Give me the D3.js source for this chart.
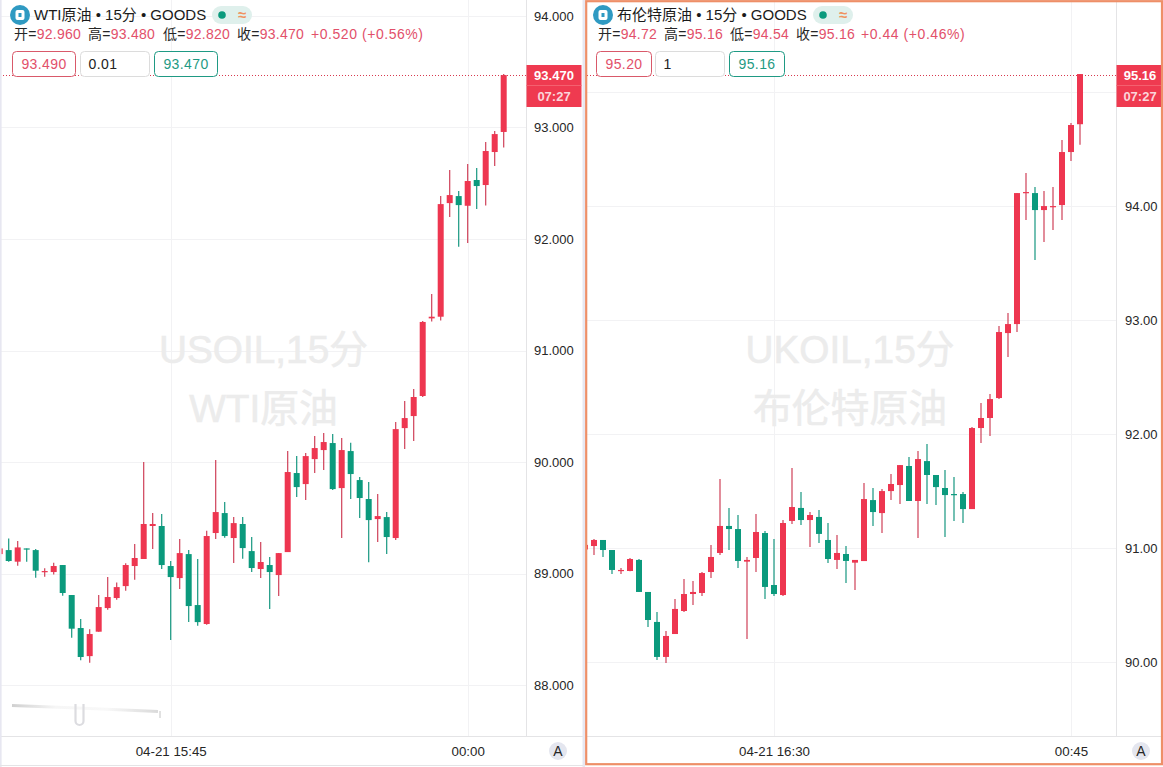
<!DOCTYPE html>
<html><head><meta charset="utf-8">
<script src="https://cdn.jsdelivr.net/npm/d3@7/dist/d3.min.js"></script>
<style>
html,body{margin:0;padding:0;background:#fff;overflow:hidden}
text{font-family:"Liberation Sans","Noto Sans CJK SC",sans-serif}
</style></head><body><svg id="c" width="1163" height="767"></svg>
<script>
// WTI candles
const wtiOpen=[89.174,89.210,89.106,89.225,89.210,89.016,89.013,89.076,88.807,88.511,88.259,88.478,88.690,88.780,88.887,89.067,89.130,89.426,89.426,89.067,88.959,89.174,88.717,88.547,89.363,89.542,89.318,89.444,89.201,89.040,89.076,88.986,89.192,89.901,89.802,90.026,90.107,90.170,89.766,90.098,89.838,89.668,89.488,89.506,89.318,90.304,90.412,90.592,91.288,91.303,92.322,92.385,92.298,92.529,92.484,92.780,92.960];
const wtiHigh=[89.24,89.315,89.291,89.225,89.219,89.046,89.097,89.076,88.807,88.591,88.499,88.807,88.968,88.920,89.091,89.264,90.0,89.542,89.533,89.112,89.309,89.210,89.130,89.384,90.018,89.641,89.506,89.506,89.327,89.282,89.148,89.183,90.098,90.053,90.080,90.233,90.260,90.251,90.215,90.173,89.865,89.820,89.712,89.551,90.358,90.547,90.654,91.265,91.506,92.385,92.618,92.430,92.672,92.636,92.869,92.968,93.480];
const wtiLow=[89.16,89.106,89.070,89.106,88.962,88.971,88.992,88.801,88.424,88.221,88.200,88.478,88.675,88.765,88.846,88.944,89.130,89.219,89.040,88.403,88.860,88.564,88.532,88.541,89.309,89.321,89.094,89.133,89.013,88.959,88.681,88.798,89.192,89.686,89.659,89.901,89.928,89.748,89.318,89.668,89.497,89.102,89.282,89.174,89.300,90.116,90.188,90.583,91.26,91.27,92.197,91.931,91.964,92.268,92.301,92.654,92.820];
const wtiClose=[89.225,89.112,89.234,89.220,89.025,89.022,89.067,88.825,88.505,88.251,88.457,88.699,88.789,88.878,89.076,89.139,89.444,89.444,89.076,88.968,89.183,88.708,88.564,89.336,89.551,89.336,89.452,89.228,89.049,89.103,89.013,89.183,89.910,89.775,90.053,90.125,90.179,89.757,90.107,89.892,89.677,89.479,89.515,89.327,90.295,90.394,90.583,91.256,91.303,92.313,92.394,92.304,92.520,92.475,92.789,92.941,93.470];
// Brent candles
const brentOpen=[90.99,91.020,91.073,90.985,90.801,90.801,90.898,90.617,90.354,90.047,90.248,90.450,90.599,90.608,90.792,90.959,91.196,91.169,90.883,90.915,91.134,90.678,90.590,91.240,91.354,91.248,91.275,91.073,90.898,90.950,90.874,90.888,91.423,91.309,91.502,91.555,91.722,91.415,91.765,91.643,91.529,91.476,91.476,91.344,92.055,92.143,92.318,92.888,92.967,94.116,94.116,93.967,93.994,94.011,94.476,94.72];
const brentHigh=[91.05,91.082,91.073,90.985,90.827,90.915,90.906,90.617,90.441,90.275,90.555,90.731,90.713,90.792,91.029,91.608,91.354,91.292,90.924,91.301,91.152,91.082,91.248,91.704,91.494,91.319,91.336,91.222,91.117,91.020,90.898,91.572,91.529,91.520,91.651,91.730,91.801,91.853,91.915,91.643,91.687,91.625,91.494,92.064,92.274,92.353,92.950,93.064,94.116,94.292,94.169,94.134,94.169,94.581,94.730,95.16];
const brentLow=[90.95,90.941,90.924,90.775,90.775,90.798,90.617,90.310,90.020,89.994,90.248,90.441,90.503,90.582,90.740,90.941,90.985,90.827,90.205,90.792,90.555,90.582,90.582,91.213,91.205,91.012,91.047,90.871,90.819,90.696,90.634,90.888,91.195,91.134,91.423,91.388,91.415,91.090,91.388,91.379,91.099,91.239,91.222,91.344,91.923,91.985,92.31,92.678,92.897,93.879,93.529,93.686,93.792,93.879,94.397,94.54];
const brentClose=[91.03,91.073,90.985,90.810,90.810,90.906,90.617,90.371,90.047,90.231,90.468,90.599,90.617,90.783,90.924,91.196,91.169,90.889,90.898,91.143,90.661,90.599,91.222,91.362,91.248,91.292,91.126,90.906,90.959,90.889,90.898,91.432,91.318,91.502,91.564,91.730,91.415,91.783,91.643,91.537,91.467,91.467,91.344,92.055,92.143,92.309,92.897,92.967,94.116,94.125,93.967,94.002,94.002,94.476,94.713,95.16];
// Axis ticks
const wtiPriceTicks=[94,93,92,91,90,89,88];
const brentPriceTicks=[94,93,92,91,90];
const brentGridOnly=[95];
const wtiTimeTicks=[19,52], wtiTimeLabels=["04-21 15:45","00:00"];
const brentTimeTicks=[21,54], brentTimeLabels=["04-21 16:30","00:45"];
// Header text
const wtiTitle="WTI原油 • 15分 • GOODS", brentTitle="布伦特原油 • 15分 • GOODS";
const wtiQuote=["92.960","93.480","92.820","93.470"], brentQuote=["94.72","95.16","94.54","95.16"];
const wtiChange="+0.520 (+0.56%)", brentChange="+0.44 (+0.46%)";
const wtiBid=["93.490","0.01","93.470"], brentBid=["95.20","1","95.16"];
const quoteKeys=["开=","高=","低=","收="];

const UP="#ee3650",DOWN="#0b9a7d",UPW="#cf4058",DOWNW="#169780",GRID="#f2f2f4",AXIS="#e4e4e6",TXT="#262626",QRED="#e2506a";
const FONT='"Liberation Sans","Noto Sans CJK SC",sans-serif';
const svg=d3.select("#c");
const defs=svg.append("defs");
const grad=defs.append("linearGradient").attr("id","fade");
grad.append("stop").attr("offset","0").attr("stop-color","#d0d0d0");
grad.append("stop").attr("offset","0.3").attr("stop-color","#f6f6f6");
grad.append("stop").attr("offset","0.65").attr("stop-color","#f8f8f8");
grad.append("stop").attr("offset","1").attr("stop-color","#dadada");

function panel(o){
  const g=svg.append("g");
  const y=d3.scaleLinear().domain(o.yDomain).range(o.yRange);
  const x=d3.scaleLinear().domain([0,o.close.length-1]).range(o.xRange);
  const cid="clip"+o.id;
  defs.append("clipPath").attr("id",cid).append("rect").attr("x",o.left).attr("y",0).attr("width",o.axisX-o.left).attr("height",736);
  // grid
  const gg=g.append("g").attr("clip-path",`url(#${cid})`);
  gg.selectAll("line.h").data(o.priceTicks.concat(o.gridOnly)).join("line").attr("class","h")
    .attr("x1",o.left).attr("x2",o.axisX).attr("y1",d=>Math.round(y(d))+.5).attr("y2",d=>Math.round(y(d))+.5).attr("stroke",GRID);
  gg.selectAll("line.v").data(o.timeTicks).join("line").attr("class","v")
    .attr("x1",d=>Math.round(x(d))+.5).attr("x2",d=>Math.round(x(d))+.5).attr("y1",0).attr("y2",736).attr("stroke",GRID);
  // watermark
  o.watermark.forEach((t,i)=>g.append("text").text(t).attr("x",o.wmX).attr("y",o.wmY[i]).attr("text-anchor","middle")
    .attr("font-size",38.8).attr("fill","#ececec").attr("stroke","#ececec").attr("stroke-width",0.6).attr("dominant-baseline","middle"));
  // candles
  const idx=d3.range(o.close.length);
  const cg=g.append("g").attr("clip-path",`url(#${cid})`);
  cg.selectAll("line.w").data(idx).join("line").attr("class","w")
    .attr("x1",i=>x(i)).attr("x2",i=>x(i)).attr("y1",i=>y(o.high[i])).attr("y2",i=>y(o.low[i]))
    .attr("stroke",i=>o.close[i]>=o.open[i]?UPW:DOWNW).attr("stroke-width",1.2);
  cg.selectAll("rect.b").data(idx).join("rect").attr("class","b")
    .attr("x",i=>x(i)-3).attr("width",6)
    .attr("y",i=>y(Math.max(o.open[i],o.close[i])))
    .attr("height",i=>Math.max(1.2,Math.abs(y(o.open[i])-y(o.close[i]))))
    .attr("fill",i=>o.close[i]>=o.open[i]?UP:DOWN);
  // last price dotted line
  const last=o.close[o.close.length-1];
  g.append("line").attr("x1",o.left).attr("x2",o.axisX).attr("y1",75.5).attr("y2",75.5)
    .attr("stroke","#d8394f").attr("stroke-width",1).attr("stroke-dasharray","1 2");
  // price axis
  const ya=d3.axisRight(y).tickValues(o.priceTicks).tickSize(0).tickPadding(o.tickPad).tickFormat(d3.format(o.fmt));
  const ag=g.append("g").attr("transform",`translate(${o.axisX},0)`).call(ya);
  ag.select(".domain").remove();
  ag.selectAll("text").attr("font-size",13).attr("fill",TXT).style("font-family",FONT);
  g.append("line").attr("x1",o.axisX+.5).attr("x2",o.axisX+.5).attr("y1",0).attr("y2",736).attr("stroke",AXIS);
  // time axis
  const xa=d3.axisBottom(x).tickValues(o.timeTicks).tickSize(0).tickPadding(11).tickFormat((d,i)=>o.timeLabels[i]);
  const tg=g.append("g").attr("transform","translate(0,736)").call(xa);
  tg.select(".domain").remove();
  tg.selectAll("text").attr("font-size",13.3).attr("fill",TXT).style("font-family",FONT);
  g.append("line").attr("x1",o.left).attr("x2",o.right).attr("y1",736.5).attr("y2",736.5).attr("stroke",AXIS);
  g.append("circle").attr("cx",o.aX).attr("cy",751).attr("r",9).attr("fill","#e4e6ef");
  g.append("text").text("A").attr("x",o.aX).attr("y",756).attr("text-anchor","middle").attr("font-size",14).attr("fill",TXT);
  // last price tag
  g.append("rect").attr("x",o.axisX+.5).attr("y",65).attr("width",o.tagW).attr("height",42).attr("fill","#ef3a50");
  g.append("line").attr("x1",o.axisX+.5).attr("x2",o.axisX+.5+o.tagW).attr("y1",85.5).attr("y2",85.5).attr("stroke","#f4606f");
  g.append("text").text(d3.format(o.fmt)(last)).attr("x",o.axisX+o.tagW/2+.5).attr("y",80).attr("text-anchor","middle").attr("font-size",13).attr("font-weight",700).attr("fill","#fff");
  g.append("text").text("07:27").attr("x",o.axisX+o.tagW/2+.5).attr("y",101).attr("text-anchor","middle").attr("font-size",13).attr("font-weight",700).attr("fill","#fbd5da");
  // header
  const ix=o.iconX;
  g.append("circle").attr("cx",ix).attr("cy",15).attr("r",10).attr("fill","#2f9ac2");
  g.append("rect").attr("x",ix-4.5).attr("y",10).attr("width",9).attr("height",10).attr("rx",2).attr("fill","#fff");
  g.append("rect").attr("x",ix-1.5).attr("y",13).attr("width",3).attr("height",4).attr("fill","#2f9ac2");
  g.append("text").text(o.title).attr("x",ix+14).attr("y",20).attr("font-size",15).attr("fill","#1a1a1a");
  g.append("rect").attr("x",o.pillX).attr("y",6).attr("width",40).attr("height",18).attr("rx",9).attr("fill","#dff0ec");
  g.append("circle").attr("cx",o.pillX+10).attr("cy",15).attr("r",3.8).attr("fill","#0b9a7d");
  g.append("text").text("≈").attr("x",o.pillX+30).attr("y",20).attr("text-anchor","middle").attr("font-size",15).attr("font-weight",700).attr("fill","#f0925f");
  o.quoteX.forEach((qx,i)=>{
    const t=g.append("text").attr("x",qx).attr("y",39).attr("font-size",14).attr("letter-spacing",0.25);
    t.append("tspan").text(quoteKeys[i]).attr("fill",TXT);
    t.append("tspan").text(o.quote[i]).attr("fill",QRED);
  });
  g.append("text").text(o.change).attr("x",o.changeX).attr("y",39).attr("font-size",14).attr("letter-spacing",0.55).attr("fill",QRED);
  // order boxes
  const cols=["#d9596a","#dcdcdc","#1f9a84"], tcols=[QRED,"#222","#1f9a84"];
  o.boxes.forEach((b,i)=>{
    g.append("rect").attr("x",b[0]+.5).attr("y",51.5).attr("width",b[1]).attr("height",25).attr("rx",4).attr("fill","#fff").attr("stroke",cols[i]);
    g.append("text").text(o.bid[i]).attr("x",i==1?b[0]+8.5:b[0]+b[1]/2+.5).attr("y",69).attr("font-size",14).attr("letter-spacing",0.4)
      .attr("text-anchor",i==1?"start":"middle").attr("fill",tcols[i]);
  });
}
panel({id:"a",open:wtiOpen,high:wtiHigh,low:wtiLow,close:wtiClose,yDomain:[94,88],yRange:[16,685],xRange:[-0.3,503.7],
  left:0,right:583,axisX:526,tagW:55,tickPad:8,fmt:".3f",priceTicks:wtiPriceTicks,gridOnly:[],timeTicks:wtiTimeTicks,timeLabels:wtiTimeLabels,
  aX:558,watermark:["USOIL,15分","WTI原油"],wmX:263.5,wmY:[353,412],iconX:20,title:wtiTitle,pillX:212,quote:wtiQuote,quoteX:[14,88,163,237],change:wtiChange,changeX:311,
  bid:wtiBid,boxes:[[12,63],[80,69],[154,63]]});
panel({id:"b",open:brentOpen,high:brentHigh,low:brentLow,close:brentClose,yDomain:[94,90],yRange:[206.3,662.3],xRange:[585,1080],
  left:587,right:1162,axisX:1116,tagW:47,tickPad:9,fmt:".2f",priceTicks:brentPriceTicks,gridOnly:brentGridOnly,timeTicks:brentTimeTicks,timeLabels:brentTimeLabels,
  aX:1141,watermark:["UKOIL,15分","布伦特原油"],wmX:850,wmY:[353,412],iconX:603,title:brentTitle,pillX:813,quote:brentQuote,quoteX:[598,664,730,796],change:brentChange,changeX:861,
  bid:brentBid,boxes:[[596,55],[655,69],[729,55]]});
// panel frames
svg.append("rect").attr("x",0).attr("y",0).attr("width",1.6).attr("height",767).attr("fill","#e7e7f1");
svg.append("rect").attr("x",582.5).attr("y",0).attr("width",2.5).attr("height",767).attr("fill","#e7e7f1");
svg.append("line").attr("x1",0).attr("x2",583).attr("y1",765.5).attr("y2",765.5).attr("stroke",AXIS);
svg.append("rect").attr("x",586.2).attr("y",1.2).attr("width",575.8).attr("height",763).attr("fill","none").attr("stroke","#ee8f68").attr("stroke-width",2.2);
// smudge at the lower left of the WTI panel
svg.append("path").attr("d",d3.line()([[12,705.5],[78,708],[158,711.5]])).attr("fill","none").attr("stroke","url(#fade)").attr("stroke-width",3);
svg.append("path").attr("d",d3.line()([[160,711],[160,718]])).attr("stroke","#c4c4c4").attr("fill","none");
svg.append("path").attr("d","M75.5 704V721a4 4 0 0 0 8 0V704").attr("fill","none").attr("stroke","#dcdce0").attr("stroke-width",2.2);
</script></body></html>
